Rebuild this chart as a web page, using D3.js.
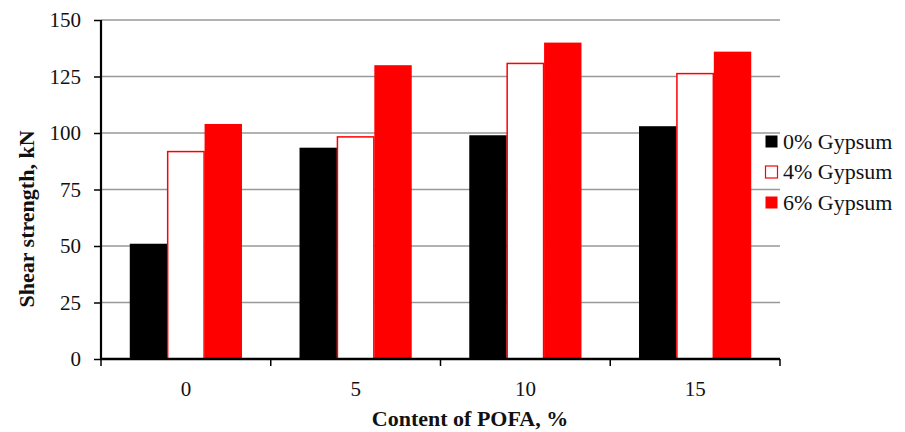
<!DOCTYPE html>
<html><head><meta charset="utf-8">
<script src="https://cdn.jsdelivr.net/npm/d3@7"></script>
<style>html,body{margin:0;padding:0;background:#fff;}svg{display:block;} text{font-family:'Liberation Serif','Times New Roman',serif;}</style>
</head><body>
<svg id="c" width="905" height="432"></svg>
<script>
const categories = ["0", "5", "10", "15"];
const seriesNames = ["0% Gypsum", "4% Gypsum", "6% Gypsum"];
const gypsum0 = [51, 93.5, 99, 103];
const gypsum4 = [92, 98.5, 131, 126.5];
const gypsum6 = [104, 130, 140, 136];
const yTicks = [0, 25, 50, 75, 100, 125, 150];

const series = [gypsum0, gypsum4, gypsum6];
const fills = ["#000000", "#ffffff", "#ff0000"];
const strokes = ["#000000", "#ff0000", "#ff0000"];

const svg = d3.select("#c");
const font = "'Liberation Serif', 'Times New Roman', serif";
const L = 101, R = 780, T = 20, B = 359;

const x = d3.scaleBand().domain(categories).range([L, R]).padding(0);
const xs = d3.scaleBand().domain(d3.range(series.length)).range([0, x.bandwidth()]).paddingOuter(29/37.7).paddingInner(0);
const y = d3.scaleLinear().domain([0, 150]).range([B, T]);

// gridlines
svg.append("g").selectAll("line").data(yTicks.filter(d => d > 0)).join("line")
  .attr("x1", L).attr("x2", R).attr("y1", d => y(d)).attr("y2", d => y(d))
  .attr("stroke", "#999").attr("stroke-width", 1.5);

// bars
categories.forEach((c, ci) => {
  series.forEach((s, si) => {
    const x0 = x(c) + xs(si);
    svg.append("rect")
      .attr("x", x0 + (si === 1 ? 0.5 : 0))
      .attr("y", y(s[ci]) + (si === 1 ? 0.5 : 0))
      .attr("width", xs.bandwidth() - (si === 1 ? 1 : 0))
      .attr("height", B - y(s[ci]) - (si === 1 ? 0.5 : 0))
      .attr("fill", fills[si])
      .attr("stroke", si === 1 ? strokes[si] : "none")
      .attr("stroke-width", 1.5);
  });
});

// y axis
const yAxis = svg.append("g").attr("transform", `translate(${L},0)`)
  .call(d3.axisLeft(y).tickValues(yTicks).tickSize(7).tickPadding(13));
yAxis.select(".domain").attr("stroke", "#000").attr("stroke-width", 2.2).attr("d", `M0,${T}V${B}`);
yAxis.selectAll(".tick line").attr("stroke", "#000").attr("stroke-width", 1.5);
yAxis.selectAll(".tick text").attr("font-family", font).attr("font-size", 21).attr("fill", "#111");

// x axis
const xAxis = svg.append("g").attr("transform", `translate(0,${B})`)
  .call(d3.axisBottom(x).tickSize(0).tickPadding(22));
xAxis.select(".domain").attr("stroke", "#000").attr("stroke-width", 2.5).attr("d", `M${L},0H${R}`);
xAxis.selectAll(".tick text").attr("font-family", font).attr("font-size", 21).attr("fill", "#111");
const bounds = categories.map(c => x(c)).concat([R]);
svg.append("g").selectAll("line").data(bounds).join("line")
  .attr("x1", d => d).attr("x2", d => d).attr("y1", B).attr("y2", B + 7)
  .attr("stroke", "#000").attr("stroke-width", 1.5);

// axis titles
svg.append("text").attr("x", 470).attr("y", 426).attr("text-anchor", "middle")
  .attr("font-family", font).attr("font-weight", "bold").attr("font-size", 22).attr("fill", "#111")
  .text("Content of POFA, %");
svg.append("text").attr("transform", "translate(34,219) rotate(-90)").attr("text-anchor", "middle")
  .attr("font-family", font).attr("font-weight", "bold").attr("font-size", 22).attr("fill", "#111")
  .text("Shear strength, kN");

// legend
const lg = svg.append("g");
seriesNames.forEach((n, i) => {
  const cy = 141.5 + i * 30.5;
  lg.append("rect").attr("x", 765.5).attr("y", cy - 6).attr("width", 12).attr("height", 12)
    .attr("fill", fills[i]).attr("stroke", strokes[i]).attr("stroke-width", i === 1 ? 1.2 : 0);
  lg.append("text").attr("x", 783).attr("y", cy + 7).attr("font-family", font).attr("font-size", 22)
    .attr("fill", "#111").text(n);
});
</script>
</body></html>
